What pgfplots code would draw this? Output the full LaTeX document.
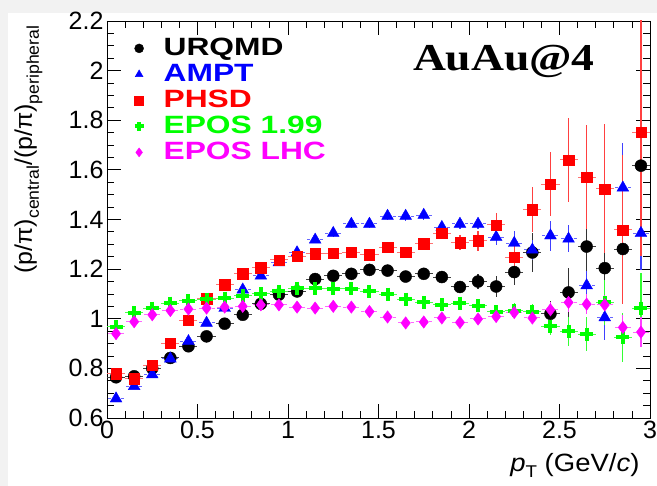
\documentclass[border=0pt]{standalone}
\usepackage{fontspec}
\setmainfont{Liberation Sans}
\newfontfamily\titlefont{Liberation Serif}
\usepackage{graphicx}
\usepackage{pgfplots}
\usepackage{pgfplotstable}
\pgfplotsset{compat=1.18}
\definecolor{bggray}{RGB}{242,242,242}
\definecolor{rblue}{RGB}{0,0,255}
\definecolor{rred}{RGB}{255,0,0}
\definecolor{rgreen}{RGB}{0,255,0}
\definecolor{rmag}{RGB}{255,0,255}

% URQMD
\pgfplotstableread{
x y ey
0.05 0.764 0.01
0.15 0.768 0.01
0.25 0.800 0.01
0.35 0.842 0.01
0.45 0.889 0.01
0.55 0.929 0.01
0.65 0.980 0.01
0.75 1.016 0.01
0.85 1.060 0.01
0.95 1.097 0.01
1.05 1.110 0.01
1.15 1.160 0.01
1.25 1.173 0.015
1.35 1.181 0.015
1.45 1.197 0.015
1.55 1.194 0.015
1.65 1.170 0.02
1.75 1.181 0.02
1.85 1.168 0.02
1.95 1.128 0.025
2.05 1.150 0.03
2.15 1.130 0.044
2.25 1.188 0.05
2.35 1.267 0.08
2.45 1.020 0.05
2.55 1.106 0.10
2.65 1.291 0.10
2.75 1.204 0.10
2.85 1.281 0.10
2.95 1.617 0.15
}\urqmd

% AMPT
\pgfplotstableread{
x y ey
0.05 0.678 0.01
0.15 0.728 0.01
0.25 0.775 0.01
0.35 0.839 0.01
0.45 0.909 0.01
0.55 0.983 0.01
0.65 1.043 0.01
0.75 1.117 0.01
0.85 1.173 0.01
0.95 1.227 0.01
1.05 1.267 0.01
1.15 1.318 0.01
1.25 1.345 0.015
1.35 1.382 0.015
1.45 1.382 0.015
1.55 1.414 0.015
1.65 1.414 0.02
1.75 1.418 0.02
1.85 1.369 0.02
1.95 1.382 0.02
2.05 1.382 0.02
2.15 1.329 0.03
2.25 1.305 0.05
2.35 1.278 0.04
2.45 1.335 0.06
2.55 1.322 0.055
2.65 1.134 0.06
2.75 1.005 0.09
2.85 1.528 0.18
2.95 1.345 0.15
}\ampt

% PHSD
\pgfplotstableread{
x y ey
0.05 0.779 0.01
0.15 0.758 0.01
0.25 0.812 0.01
0.35 0.902 0.01
0.45 0.993 0.01
0.55 1.080 0.01
0.65 1.137 0.01
0.75 1.181 0.01
0.85 1.206 0.01
0.95 1.237 0.01
1.05 1.251 0.01
1.15 1.262 0.01
1.25 1.264 0.015
1.35 1.268 0.015
1.45 1.258 0.015
1.55 1.289 0.015
1.65 1.267 0.02
1.75 1.302 0.02
1.85 1.345 0.02
1.95 1.307 0.03
2.05 1.315 0.04
2.15 1.378 0.05
2.25 1.248 0.05
2.35 1.439 0.09
2.45 1.543 0.13
2.55 1.640 0.17
2.65 1.570 0.21
2.75 1.523 0.26
2.85 1.358 0.30
2.95 1.751 0.50
}\phsd

% EPOS 1.99
\pgfplotstableread{
x y ey
0.05 0.967 0.01
0.15 1.025 0.01
0.25 1.043 0.01
0.35 1.063 0.01
0.45 1.072 0.01
0.55 1.079 0.01
0.65 1.083 0.01
0.75 1.093 0.01
0.85 1.100 0.01
0.95 1.110 0.01
1.05 1.123 0.01
1.15 1.123 0.01
1.25 1.120 0.01
1.35 1.121 0.01
1.45 1.110 0.01
1.55 1.099 0.015
1.65 1.079 0.015
1.75 1.066 0.015
1.85 1.056 0.02
1.95 1.063 0.02
2.05 1.052 0.025
2.15 1.029 0.025
2.25 1.032 0.03
2.35 1.029 0.03
2.45 0.970 0.035
2.55 0.949 0.057
2.65 0.938 0.07
2.75 1.066 0.09
2.85 0.925 0.10
2.95 1.043 0.14
}\eposa

% EPOS LHC
\pgfplotstableread{
x y ey
0.05 0.940 0.01
0.15 0.988 0.01
0.25 1.016 0.01
0.35 1.033 0.01
0.45 1.039 0.01
0.55 1.043 0.01
0.65 1.047 0.01
0.75 1.050 0.01
0.85 1.056 0.01
0.95 1.056 0.01
1.05 1.047 0.01
1.15 1.043 0.01
1.25 1.050 0.01
1.35 1.047 0.01
1.45 1.029 0.01
1.55 1.007 0.01
1.65 0.983 0.01
1.75 0.987 0.01
1.85 1.003 0.015
1.95 0.985 0.015
2.05 0.999 0.015
2.15 1.009 0.02
2.25 1.025 0.02
2.35 1.003 0.02
2.45 1.036 0.03
2.55 1.066 0.04
2.65 1.059 0.04
2.75 1.056 0.04
2.85 0.965 0.05
2.95 0.946 0.06
}\eposb

\begin{document}
\begin{tikzpicture}
\useasboundingbox (-107pt,-68pt) rectangle (550pt,418pt);
\fill[bggray] (-107pt,-68pt) rectangle (550pt,418pt);
\fill[white] (-99pt,-68pt) rectangle (550pt,405pt);
\begin{axis}[
  scale only axis,
  width=543pt, height=397pt,
  xmin=0, xmax=3, ymin=0.6, ymax=2.2,
  xtick={0,0.5,1,1.5,2,2.5,3},
  ytick={0.6,0.8,1,1.2,1.4,1.6,1.8,2,2.2},
  minor x tick num=4, minor y tick num=3,
  tick align=inside,
  major tick length=14pt, minor tick length=7pt,
  axis line style={line width=0.8pt},
  tick style={line width=0.8pt, black},
  /pgf/number format/assume math mode=true,
  tick label style={font=\fontsize{25}{25}\selectfont},
  legend cell align=left,
  legend image post style={mark size=4.5pt},
  legend style={at={(rel axis cs:0.045,0.968)}, anchor=north west,
    draw=none, fill=none, font=\fontsize{25}{25}\selectfont\bfseries,
    row sep=1pt,
    /tikz/every odd column/.append style={column sep=17pt},
    nodes={text height=18pt, text depth=3pt, inner ysep=2pt, inner xsep=3pt}},
]
% x error bars (bin width)
\addplot[forget plot, draw=none, mark=none, error bars/.cd, x dir=both, x fixed=0.05,
  error mark=none, error bar style={draw=black!75, line width=1pt}] table[x=x,y=y] {\urqmd};
\addplot[forget plot, draw=none, mark=none, error bars/.cd, x dir=both, x fixed=0.05,
  error mark=none, error bar style={draw=rblue!60, line width=1pt, dash pattern=on 3pt off 2pt}] table[x=x,y=y] {\ampt};
\addplot[forget plot, draw=none, mark=none, error bars/.cd, x dir=both, x fixed=0.05,
  error mark=none, error bar style={draw=rred!55, line width=1pt}] table[x=x,y=y] {\phsd};
\addplot[forget plot, draw=none, mark=none, error bars/.cd, x dir=both, x fixed=0.05,
  error mark=none, error bar style={draw=rgreen!70, line width=1pt}] table[x=x,y=y] {\eposa};
\addplot[forget plot, draw=none, mark=none, error bars/.cd, x dir=both, x fixed=0.05,
  error mark=none, error bar style={draw=rmag!60, line width=1pt, dash pattern=on 3pt off 2pt}] table[x=x,y=y] {\eposb};

% markers with y error bars
\addplot[only marks, mark=*, mark size=6pt, mark options={fill=black, draw=black},
  error bars/.cd, y dir=both, y explicit, error mark=none,
  error bar style={draw=black!80, line width=1.2pt}]
  table[x=x,y=y,y error=ey] {\urqmd};
\addlegendentry{\scalebox{1.27}[1]{URQMD}}
\addplot[only marks, mark=triangle*, mark size=6.8pt, mark options={fill=rblue, draw=rblue},
  error bars/.cd, y dir=both, y explicit, error mark=none,
  error bar style={draw=rblue!75, line width=1.2pt}]
  table[x=x,y=y,y error=ey] {\ampt};
\addlegendentry{\scalebox{1.27}[1]{\textcolor{rblue}{AMPT}}}
\addplot[only marks, mark=square*, mark size=5.2pt, mark options={fill=rred, draw=rred},
  error bars/.cd, y dir=both, y explicit, error mark=none,
  error bar style={draw=rred!75, line width=1.2pt}]
  table[x=x,y=y,y error=ey] {\phsd};
\addlegendentry{\scalebox{1.27}[1]{\textcolor{rred}{PHSD}}}
\addplot[only marks, mark=+, mark size=6.5pt, mark options={draw=rgreen, line width=4pt},
  error bars/.cd, y dir=both, y explicit, error mark=none,
  error bar style={draw=rgreen!80, line width=1.2pt}]
  table[x=x,y=y,y error=ey] {\eposa};
\addlegendentry{\scalebox{1.27}[1]{\textcolor{rgreen}{EPOS 1.99}}}
\addplot[only marks, mark=diamond*, mark size=6.2pt, mark options={fill=rmag, draw=rmag},
  error bars/.cd, y dir=both, y explicit, error mark=none,
  error bar style={draw=rmag!75, line width=1.2pt}]
  table[x=x,y=y,y error=ey] {\eposb};
\addlegendentry{\scalebox{1.27}[1]{\textcolor{rmag}{EPOS LHC}}}

\node[anchor=base, font=\fontsize{38}{38}\selectfont] at (axis cs:2.193,2.002)
  {\scalebox{1.2}[1]{\titlefont\bfseries AuAu@4}};
\end{axis}
\node[rotate=90, anchor=base east, font=\fontsize{24}{24}\selectfont]
  at (-75pt,396pt)
  {\scalebox{1.04}[1]{(p/π)\raisebox{-7pt}{\fontsize{17}{17}\selectfont central}/(p/π)\raisebox{-7pt}{\fontsize{17}{17}\selectfont peripheral}}};
\node[anchor=base east, font=\fontsize{25}{25}\selectfont]
  at (536pt,-54pt)
  {\scalebox{1.1}[1]{\textit{p}\raisebox{-6pt}{\fontsize{17}{17}\selectfont T} (GeV/\textit{c})}};
\end{tikzpicture}
\end{document}
